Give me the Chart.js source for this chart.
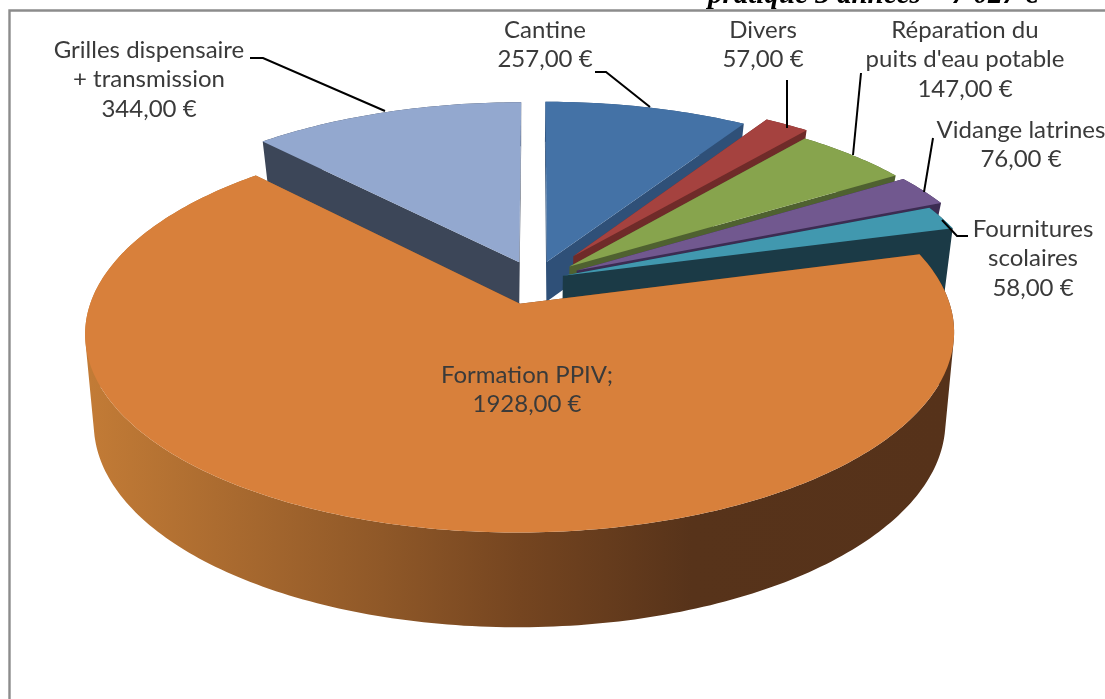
<!DOCTYPE html>
<html lang="fr">
<head>
<meta charset="utf-8">
<title>Répartition des dépenses</title>
<script src="https://cdn.jsdelivr.net/npm/chart.js@4"></script>
<style>html,body{margin:0;padding:0;background:#fff}canvas{display:block}</style>
</head>
<body>
<canvas id="c" width="1105" height="699"></canvas>
<script>
// ---- data ----
const categories = ['Cantine', 'Divers', "Réparation du\npuits d'eau potable", 'Vidange latrines', 'Fournitures\nscolaires', 'Formation PPIV;', 'Grilles dispensaire\n+ transmission'];
const values = [257, 57, 147, 76, 58, 1928, 344];
const titleText = 'pratique 3 années = 7 027 €';

// ---- styles ----
const topColors = ['#4472A6', '#A5423F', '#87A44D', '#71588F', '#4198AF', '#D8803B', '#93A8CF'];
const sideColors = ['#2F5078', '#6F2B29', '#4F6130', '#3C2C52', '#1B3A46', '#56321A', '#3C4658'];
const explosion = [0.103, 0.158, 0.11, 0.112, 0.07, 0.129, 0.103];
const drawOrder = [6, 0, 1, 2, 3, 4, 5];
const orangeSideStops = [[0, '#C27B36'], [0.34, '#8F5828'], [0.5, '#754520'], [0.7, '#57331A'], [1, '#56321A']];
const labelCenters = [[545, 30], [763, 30], [965, 30], [1021, 130], [1033, 229], [527, 375], [149, 50]];
const leaderPaths = [
  [[595, 72], [606, 72], [650, 107]],
  [[787, 80], [787, 128]],
  [[861, 73], [853, 155]],
  [[933, 138], [924, 192]],
  [[968, 236], [957, 236], [942, 220]],
  null,
  [[250, 58], [263, 58], [385, 111]]
];
// projection of the pie plane: horizontal/vertical stretch of the radius and perspective
const stretchX = 422 / 188, perspective = 0.145;
const wallDepths = [40, 40, 40, 40, 68, 0, 44];
const wallHeight = (i, v) => wallDepths[i] || 88 + 6 * v;
const bottomShrink = 0.98, shrinkShift = 15;

class Arc3D extends Chart.ArcElement {
  static id = 'arc3d';
  render3d(ctx, index) {
    const {x, y, startAngle, endAngle, outerRadius} = this.getProps(['x', 'y', 'startAngle', 'endAngle', 'outerRadius'], true);
    const mid = (startAngle + endAngle) / 2, d = explosion[index];
    const u0 = Math.cos(mid) * d, v0 = Math.sin(mid) * d;
    const project = (u, v, low) => {
      const w = 1 / (1 - perspective * v);
      let X = x + outerRadius * stretchX * u * w;
      let Y = y + outerRadius * v * w;
      if (low) {
        Y += wallHeight(index, v);
        X = (x - shrinkShift) + (X - x + shrinkShift) * bottomShrink;
      }
      return [X, Y];
    };
    const steps = Math.max(8, Math.ceil((endAngle - startAngle) * 60));
    const rim = [];
    for (let k = 0; k <= steps; k++) {
      const a = startAngle + (endAngle - startAngle) * k / steps;
      rim.push([u0 + Math.cos(a), v0 + Math.sin(a)]);
    }
    // adds a polygon to the current path with a normalised winding, so overlaps never cancel
    const addPoly = pts => {
      let area = 0;
      pts.forEach((p, k) => {
        const q = pts[(k + 1) % pts.length];
        area += p[0] * q[1] - q[0] * p[1];
      });
      const seq = area < 0 ? pts.slice().reverse() : pts;
      seq.forEach((p, k) => k ? ctx.lineTo(p[0], p[1]) : ctx.moveTo(p[0], p[1]));
      ctx.closePath();
    };
    let side = sideColors[index];
    if (index === 5) {
      side = ctx.createLinearGradient(90, 0, 950, 0);
      orangeSideStops.forEach(s => side.addColorStop(s[0], s[1]));
    }
    ctx.save();
    ctx.fillStyle = side;
    ctx.beginPath();
    // radial walls
    const first = rim[0], last = rim[rim.length - 1];
    [first, last].forEach(e => addPoly([
      project(u0, v0), project(e[0], e[1]), project(e[0], e[1], true), project(u0, v0, true)
    ]));
    // outer wall, one quad per rim step so the tangent silhouette stays filled
    for (let k = 0; k < rim.length - 1; k++) {
      const p = rim[k], q = rim[k + 1];
      addPoly([project(p[0], p[1]), project(q[0], q[1]), project(q[0], q[1], true), project(p[0], p[1], true)]);
    }
    ctx.fill();
    // top face
    ctx.fillStyle = this.options.backgroundColor;
    ctx.beginPath();
    addPoly([project(u0, v0)].concat(rim.map(p => project(p[0], p[1]))));
    ctx.fill();
    ctx.restore();
  }
  draw() {}
}
class Pie3D extends Chart.PieController {
  static id = 'pie3d';
  static defaults = {...Chart.PieController.defaults, dataElementType: 'arc3d'};
  static overrides = Chart.PieController.overrides;
  draw() {
    const arcs = this._cachedMeta.data, ctx = this.chart.ctx;
    drawOrder.forEach(i => arcs[i].render3d(ctx, i));
  }
}
Chart.register(Arc3D, Pie3D);

const labelFont = '24px Lato, "Open Sans", sans-serif';
const decor = {
  id: 'decor',
  beforeDraw(chart) {
    const ctx = chart.ctx;
    ctx.save();
    ctx.fillStyle = '#fff';
    ctx.fillRect(0, 0, chart.width, chart.height);
    ctx.strokeStyle = '#8C8C8C';
    ctx.lineWidth = 2.4;
    ctx.beginPath();
    ctx.moveTo(9.5, chart.height);
    ctx.lineTo(9.5, 10.5);
    ctx.lineTo(chart.width, 10.5);
    ctx.stroke();
    ctx.fillStyle = '#000';
    ctx.font = 'italic bold 29px "Liberation Serif", serif';
    ctx.textAlign = 'left';
    ctx.textBaseline = 'alphabetic';
    ctx.fillText(titleText, 708, 3);
    ctx.restore();
  },
  afterDatasetsDraw(chart) {
    const ctx = chart.ctx;
    ctx.save();
    ctx.strokeStyle = '#000';
    ctx.lineWidth = 2;
    leaderPaths.forEach(path => {
      if (!path) return;
      ctx.beginPath();
      path.forEach((p, k) => k ? ctx.lineTo(p[0], p[1]) : ctx.moveTo(p[0], p[1]));
      ctx.stroke();
    });
    ctx.fillStyle = '#3A3A3A';
    ctx.font = labelFont;
    ctx.textAlign = 'center';
    ctx.textBaseline = 'middle';
    categories.forEach((name, i) => {
      const lines = name.split('\n').concat(values[i].toFixed(2).replace('.', ',') + ' €');
      const [cx, cy] = labelCenters[i];
      lines.forEach((t, k) => ctx.fillText(t, cx, cy + k * 29.5));
    });
    ctx.restore();
  }
};

new Chart(document.getElementById('c'), {
  type: 'pie3d',
  data: {
    labels: categories,
    datasets: [{data: values, backgroundColor: topColors, borderWidth: 0}]
  },
  options: {
    responsive: false,
    animation: false,
    radius: 188,
    layout: {padding: {left: 0, right: 35, top: 0, bottom: 139}},
    plugins: {legend: {display: false}, tooltip: {enabled: false}, title: {display: false}}
  },
  plugins: [decor]
});
</script>
</body>
</html>
